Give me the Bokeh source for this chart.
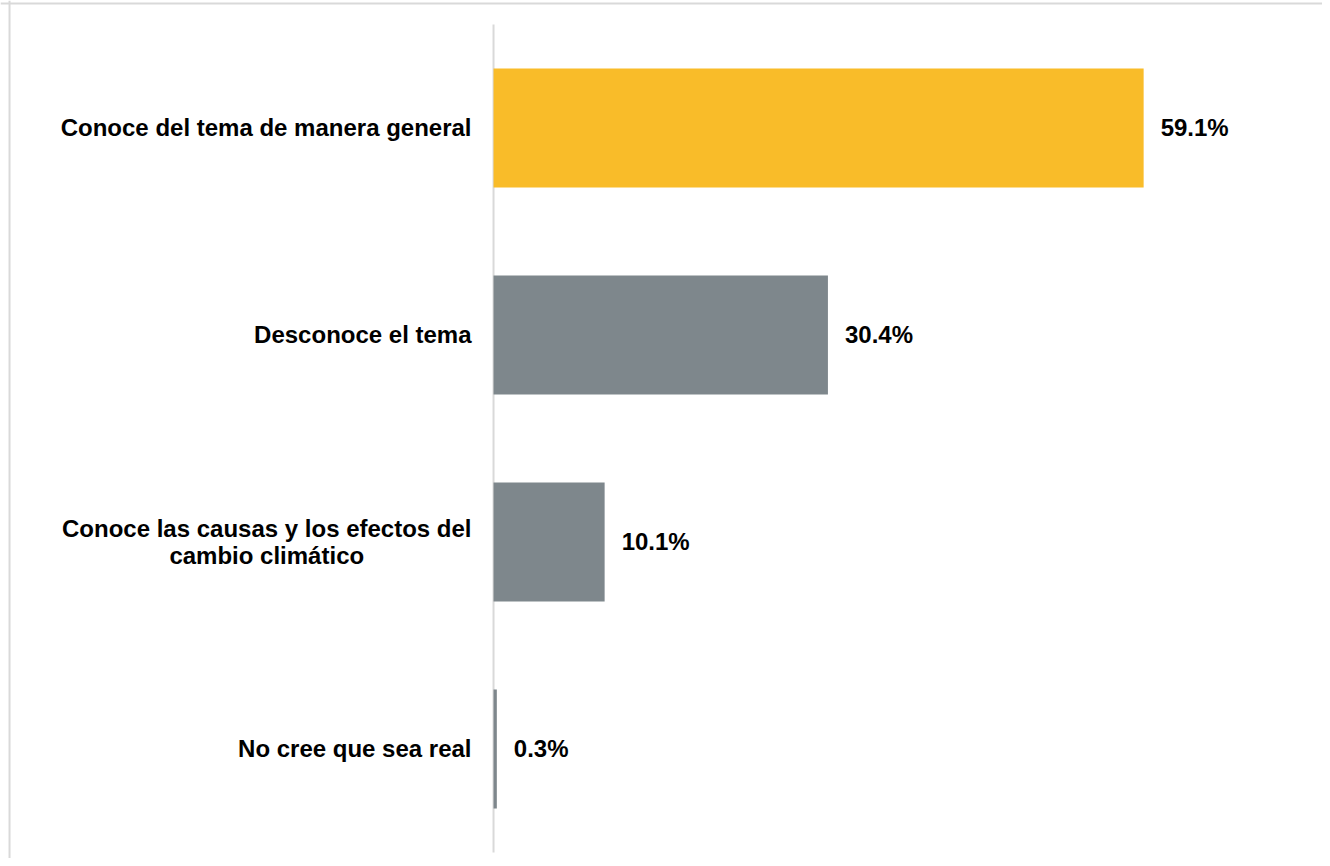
from bokeh.plotting import figure
from bokeh.models import ColumnDataSource, Range1d, Span
from bokeh.core.properties import value
from bokeh.embed import file_html
from bokeh.resources import INLINE

categories = [
    "Conoce del tema de manera general",
    "Desconoce el tema",
    "Conoce las causas y los efectos del\ncambio climático",
    "No cree que sea real",
]
values = [59.1, 30.4, 10.1, 0.3]
value_labels = ["59.1%", "30.4%", "10.1%", "0.3%"]
colors = ["#F9BC29", "#7E878C", "#7E878C", "#7E878C"]

ypos = list(range(len(categories)))
src = ColumnDataSource(dict(y=ypos, v=values, cat=categories, lab=value_labels, c=colors,
                            zero=[0] * len(values), lx=[-2.0] * len(values)))

W, H = 1322, 858
p = figure(width=W, height=H, output_backend="svg", toolbar_location=None,
           x_range=Range1d(-44.82, 75.36), y_range=Range1d(3.529, -0.6159),
           min_border=0, min_border_left=0, min_border_right=0,
           min_border_top=0, min_border_bottom=0)
p.axis.visible = False
p.xgrid.grid_line_color = None
p.ygrid.grid_line_color = None
p.outline_line_color = None
p.background_fill_color = "white"
p.border_fill_color = "white"

# border (top and left visible)
p.add_layout(Span(location=-44.0, dimension="height", line_color="#D9D9D9", line_width=2))
p.add_layout(Span(location=-0.6014, dimension="width", line_color="#D9D9D9", line_width=2))

# vertical axis line
p.segment(x0=[0], y0=[-0.5], x1=[0], y1=[len(categories) - 0.5], line_color="#D9D9D9", line_width=2)

p.hbar(y="y", left="zero", right="v", height=0.575, fill_color="c", line_color=None, source=src)

p.text(x="v", y="y", text="lab", source=src, x_offset=17,
       text_font=value("Liberation Sans"), text_font_style="bold", text_font_size="24px",
       text_color="black", text_align="left", text_baseline="middle")

p.text(x="lx", y="y", text="cat", source=src, anchor="center_right",
       text_font=value("Liberation Sans"), text_font_style="bold", text_font_size="24px",
       text_color="black", text_align="center", text_baseline="middle", text_line_height=1.0)

open("out.html", "w").write(file_html(p, INLINE))
